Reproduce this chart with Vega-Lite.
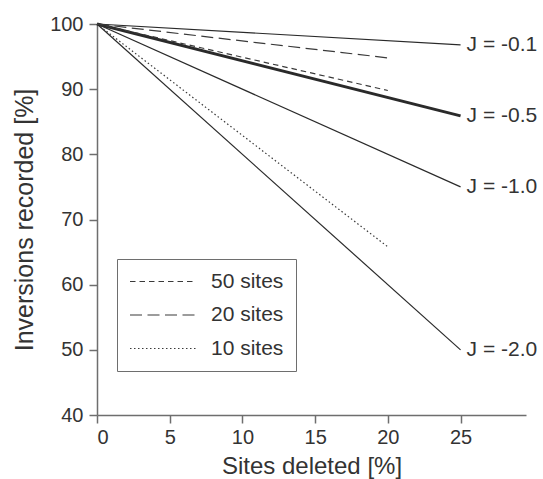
{
  "$schema": "https://vega.github.io/schema/vega-lite/v6.json",
  "width": 429,
  "height": 391,
  "autosize": "none",
  "padding": {"left": 97, "top": 24, "right": 17, "bottom": 64},
  "background": "white",
  "config": {
    "view": {"stroke": null},
    "font": "Liberation Sans",
    "axis": {
      "grid": false,
      "domainColor": "#6e6e6e",
      "domainWidth": 1.5,
      "tickColor": "#6e6e6e",
      "tickWidth": 1.5,
      "tickSize": 8,
      "labelFontSize": 20,
      "labelColor": "#333333",
      "titleFontSize": 24,
      "titleFontWeight": "normal",
      "titleColor": "#333333"
    },
    "legend": {
      "labelFontSize": 21,
      "labelColor": "#333333"
    }
  },
  "data": {
    "values": [
      {"series": "J = -0.1", "kind": "J", "x": 0, "y": 100},
      {"series": "J = -0.1", "kind": "J", "x": 25, "y": 96.8},
      {"series": "J = -0.5", "kind": "J", "x": 0, "y": 100},
      {"series": "J = -0.5", "kind": "J", "x": 25, "y": 85.9},
      {"series": "J = -1.0", "kind": "J", "x": 0, "y": 100},
      {"series": "J = -1.0", "kind": "J", "x": 25, "y": 75},
      {"series": "J = -2.0", "kind": "J", "x": 0, "y": 100},
      {"series": "J = -2.0", "kind": "J", "x": 25, "y": 50},
      {"series": "50 sites", "kind": "sites", "x": 0, "y": 100},
      {"series": "50 sites", "kind": "sites", "x": 20, "y": 89.8},
      {"series": "20 sites", "kind": "sites", "x": 0, "y": 100},
      {"series": "20 sites", "kind": "sites", "x": 20, "y": 94.8},
      {"series": "10 sites", "kind": "sites", "x": 0, "y": 100},
      {"series": "10 sites", "kind": "sites", "x": 20, "y": 65.8}
    ]
  },
  "encoding": {
    "x": {
      "field": "x",
      "type": "quantitative",
      "scale": {"domain": [0, 29.5], "nice": false},
      "axis": {"title": "Sites deleted [%]", "values": [0, 5, 10, 15, 20, 25], "labelPadding": 4, "titlePadding": 7}
    },
    "y": {
      "field": "y",
      "type": "quantitative",
      "scale": {"domain": [40, 100], "nice": false, "zero": false},
      "axis": {"title": "Inversions recorded [%]", "titleFontSize": 25, "values": [40, 50, 60, 70, 80, 90, 100], "labelPadding": 6, "titlePadding": 12}
    }
  },
  "layer": [
    {
      "transform": [{"filter": "datum.kind == 'J'"}],
      "mark": {"type": "line", "color": "#2a2a2a"},
      "encoding": {
        "detail": {"field": "series"},
        "strokeWidth": {"condition": {"test": "datum.series == 'J = -0.5'", "value": 3}, "value": 1.2}
      }
    },
    {
      "transform": [{"filter": "datum.kind == 'sites'"}],
      "mark": {"type": "line", "color": "#3a3a3a", "strokeWidth": 1.2},
      "encoding": {
        "strokeDash": {
          "field": "series",
          "type": "nominal",
          "scale": {"domain": ["50 sites", "20 sites", "10 sites"], "range": [[5.5, 4], [12, 5.5], [1.5, 2.5]]},
          "legend": {
            "title": null,
            "orient": "none",
            "legendX": 20,
            "legendY": 235,
            "strokeColor": "#6e6e6e",
            "padding": 12,
            "symbolType": "stroke",
            "symbolSize": 4356,
            "symbolStrokeWidth": 1.2,
            "symbolStrokeColor": "#3a3a3a",
            "clipHeight": 21,
            "rowPadding": 11.5,
            "labelOffset": 14
          }
        }
      }
    },
    {
      "transform": [{"filter": "datum.kind == 'J' && datum.x == 25"}],
      "mark": {"type": "text", "align": "left", "baseline": "middle", "dx": 6, "fontSize": 21, "color": "#333333"},
      "encoding": {"text": {"field": "series"}}
    }
  ]
}
